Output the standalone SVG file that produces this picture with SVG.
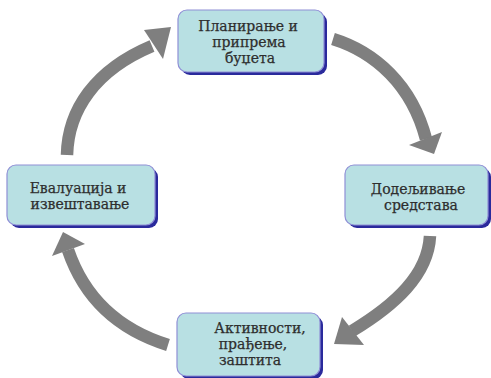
<svg xmlns="http://www.w3.org/2000/svg" width="491" height="378" viewBox="0 0 491 378">
<style>
.shadow{fill:#2a2a9c}
.box{fill:#b8e0e3;stroke:#8f8fd6;stroke-width:1.2}
.t{font-family:"DejaVu Serif","Liberation Serif",serif;font-size:14px;fill:#2e2e2e;stroke:#2e2e2e;stroke-width:0.25;text-anchor:middle}
.shaft{fill:none;stroke:#7f7f7f;stroke-width:12.5}
.head{fill:#7f7f7f}
</style>
<rect width="491" height="378" fill="#fff"/>
<g id="connectors">
<path class="shaft" d="M67 155 C68 110 95 70 152 46"/>
<polygon class="head" points="144,30 171,27 163,59"/>
<path class="shaft" d="M333 39 C375 52 412 85 426 139"/>
<polygon class="head" points="409,145 442,132 434,154"/>
<path class="shaft" d="M430 236 C428 275 395 305 352 331"/>
<polygon class="head" points="342,317 334,344 364,345"/>
<path class="shaft" d="M168 345 C120 330 85 300 68 250"/>
<polygon class="head" points="52,256 63,232 85,244"/>
</g>
<g id="node-plan">
<rect class="shadow" x="181" y="13" width="146" height="62" rx="9"/>
<rect class="box" x="178" y="10" width="146" height="62" rx="9"/>
<text class="t" x="248" y="31">Планирање и</text>
<text class="t" x="249" y="47">припрема</text>
<text class="t" x="250" y="63">буџета</text>
</g>
<g id="node-alloc">
<rect class="shadow" x="348" y="168" width="143" height="60" rx="9"/>
<rect class="box" x="345" y="165" width="143" height="60" rx="9"/>
<text class="t" x="418" y="194">Додељивање</text>
<text class="t" x="421" y="210">средстава</text>
</g>
<g id="node-activ">
<rect class="shadow" x="180" y="316" width="143" height="63" rx="9"/>
<rect class="box" x="177" y="313" width="143" height="63" rx="9"/>
<text class="t" x="260" y="333">Активности,</text>
<text class="t" x="253" y="349">прађење,</text>
<text class="t" x="250" y="365">заштита</text>
</g>
<g id="node-eval">
<rect class="shadow" x="10" y="168" width="148" height="60" rx="9"/>
<rect class="box" x="7" y="165" width="148" height="60" rx="9"/>
<text class="t" x="78" y="193">Евалуација и</text>
<text class="t" x="80" y="209">извештавање</text>
</g>
</svg>
